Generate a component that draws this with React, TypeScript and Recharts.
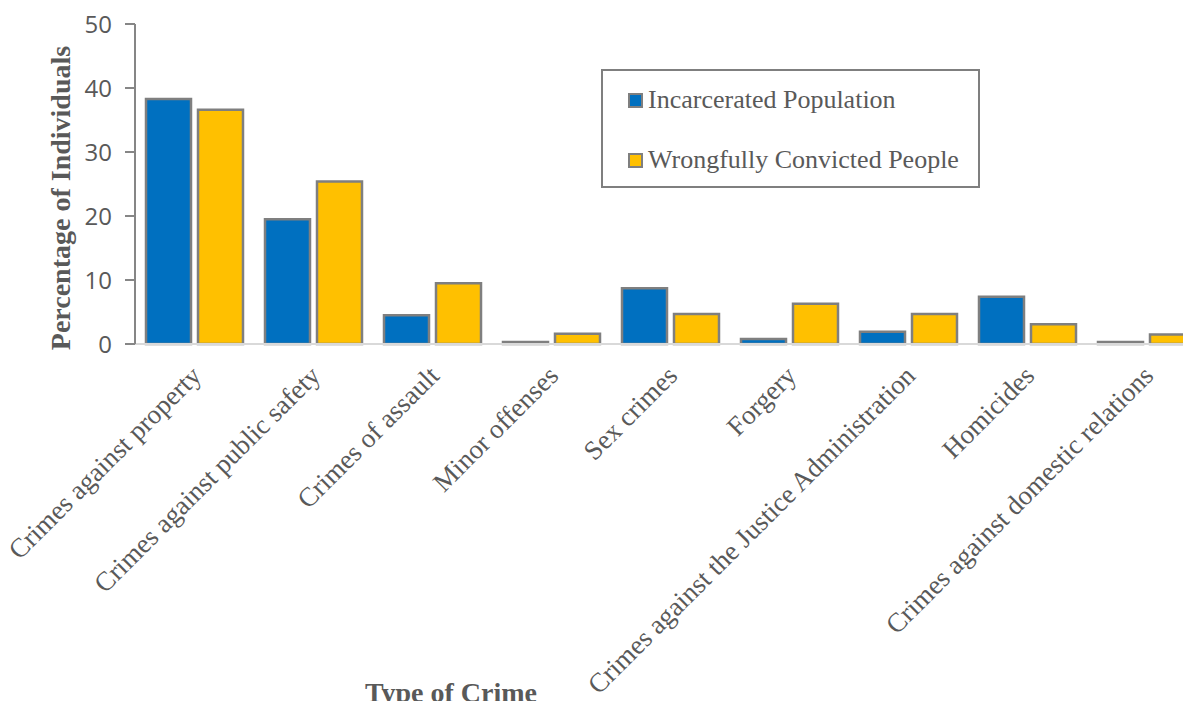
import React from 'react';
import { BarChart, Bar, XAxis, YAxis, Legend, Label } from 'recharts';

const categories = [
  'Crimes against property',
  'Crimes against public safety',
  'Crimes of assault',
  'Minor offenses',
  'Sex crimes',
  'Forgery',
  'Crimes against the Justice Administration',
  'Homicides',
  'Crimes against domestic relations',
];
const incarcerated = [38.3, 19.5, 4.5, 0.3, 8.7, 0.8, 1.9, 7.4, 0.3];
const wrongful = [36.6, 25.4, 9.5, 1.6, 4.7, 6.3, 4.7, 3.1, 1.5];
const yTicks = [0, 10, 20, 30, 40, 50];

const seriesNames = ['Incarcerated Population', 'Wrongfully Convicted People'];
const BLUE = '#0070C0';
const GOLD = '#FFC000';
const EDGE = '#7f7f7f';
const TEXT = '#595959';
const SERIF = '"Liberation Serif", "Times New Roman", serif';

const data = categories.map((name, i) => ({
  name,
  incarcerated: incarcerated[i],
  wrongful: wrongful[i],
}));

// rotated category labels, right end sits just under the group
const CategoryTick = (props: any) => {
  const { x, y, payload } = props;
  return (
    <text
      transform={`translate(${x + 2},${y + 27}) rotate(-45)`}
      textAnchor="end"
      dominantBaseline="central"
      fill={TEXT}
      fontFamily={SERIF}
      fontSize={27}
    >
      {payload.value}
    </text>
  );
};

const LegendBox = () => (
  <div
    style={{
      border: `2px solid ${EDGE}`,
      width: 375,
      height: 115,
      boxSizing: 'content-box',
      fontFamily: SERIF,
      fontSize: 26,
      color: TEXT,
      background: '#fff',
    }}
  >
    {seriesNames.map((n, i) => (
      <div
        key={n}
        style={{
          display: 'flex',
          alignItems: 'center',
          marginLeft: 25,
          marginTop: i === 0 ? 14 : 30,
          height: 30,
        }}
      >
        <span
          style={{
            display: 'inline-block',
            width: 11,
            height: 11,
            background: i === 0 ? BLUE : GOLD,
            border: `2px solid ${EDGE}`,
            marginRight: 5,
          }}
        />
        <span style={{ lineHeight: '30px' }}>{n}</span>
      </div>
    ))}
  </div>
);

export default function App() {
  return (
    <div style={{ margin: -8, width: 1191, height: 709, overflow: 'hidden', background: '#fff' }}>
      <BarChart
        width={1220}
        height={709}
        data={data}
        margin={{ top: 24, right: 14, left: 55, bottom: 65 }}
        barSize={45}
        barGap={7}
      >
        <XAxis
          dataKey="name"
          interval={0}
          height={300}
          tickSize={0}
          tickMargin={0}
          tickLine={false}
          axisLine={{ stroke: '#d9d9d9', strokeWidth: 2 }}
          tick={<CategoryTick />}
        >
          <Label
            content={() => (
              <text
                x={451}
                y={702}
                textAnchor="middle"
                fill={TEXT}
                fontFamily={SERIF}
                fontWeight="bold"
                fontSize={28}
              >
                Type of Crime
              </text>
            )}
          />
        </XAxis>
        <YAxis
          width={80}
          domain={[0, 50]}
          ticks={yTicks}
          interval={0}
          tickSize={10}
          tickMargin={13}
          axisLine={{ stroke: '#868686', strokeWidth: 2 }}
          tickLine={{ stroke: '#868686', strokeWidth: 2 }}
          tick={{ fill: TEXT, fontSize: 24, fontFamily: '"Open Sans", sans-serif' }}
        >
          <Label
            content={() => (
              <text
                transform="translate(70,198) rotate(-90)"
                textAnchor="middle"
                fill={TEXT}
                fontFamily={SERIF}
                fontWeight="bold"
                fontSize={28}
              >
                Percentage of Individuals
              </text>
            )}
          />
        </YAxis>
        <Legend
          layout="horizontal"
          verticalAlign="middle"
          align="center"
          content={<LegendBox />}
          wrapperStyle={{ position: 'absolute', left: 601, top: 69, width: 379 }}
        />
        <Bar
          dataKey="incarcerated"
          name={seriesNames[0]}
          fill={BLUE}
          stroke={EDGE}
          strokeWidth={2.5}
          isAnimationActive={false}
        />
        <Bar
          dataKey="wrongful"
          name={seriesNames[1]}
          fill={GOLD}
          stroke={EDGE}
          strokeWidth={2.5}
          isAnimationActive={false}
        />
      </BarChart>
    </div>
  );
}
